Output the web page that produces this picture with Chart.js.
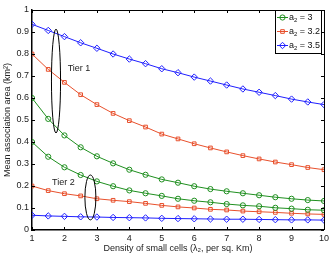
<!DOCTYPE html>
<html>
<head>
<meta charset="utf-8">
<script src="https://cdn.jsdelivr.net/npm/chart.js@4.4.1/dist/chart.umd.min.js"></script>
<style>
  html, body { margin: 0; padding: 0; background: #fff; }
  #wrap { width: 332px; height: 257px; }
</style>
</head>
<body>
<div id="wrap"><canvas id="grafico" width="332" height="257"></canvas></div>
<script>
// Densidad de small cells (eje x)
const densidad = [1, 1.5, 2, 2.5, 3, 3.5, 4, 4.5, 5, 5.5, 6, 6.5, 7, 7.5, 8, 8.5, 9, 9.5, 10];

// Tier 1
const tier1A3 = [0.600, 0.505, 0.430, 0.376, 0.335, 0.303, 0.274, 0.251, 0.230, 0.215, 0.199, 0.186, 0.176, 0.167, 0.158, 0.149, 0.142, 0.136, 0.132];
const tier1A32 = [0.800, 0.730, 0.671, 0.615, 0.570, 0.530, 0.497, 0.468, 0.436, 0.414, 0.392, 0.373, 0.355, 0.338, 0.323, 0.309, 0.297, 0.284, 0.274];
const tier1A35 = [0.935, 0.907, 0.879, 0.851, 0.826, 0.800, 0.777, 0.756, 0.733, 0.715, 0.695, 0.677, 0.659, 0.641, 0.626, 0.611, 0.595, 0.582, 0.570];

// Tier 2
const tier2A3 = [0.400, 0.333, 0.285, 0.250, 0.221, 0.199, 0.180, 0.167, 0.155, 0.142, 0.133, 0.126, 0.118, 0.112, 0.108, 0.101, 0.097, 0.092, 0.090];
const tier2A32 = [0.200, 0.179, 0.165, 0.155, 0.142, 0.135, 0.129, 0.121, 0.112, 0.105, 0.100, 0.094, 0.091, 0.086, 0.083, 0.080, 0.076, 0.073, 0.071];
const tier2A35 = [0.067, 0.064, 0.062, 0.060, 0.059, 0.057, 0.056, 0.055, 0.053, 0.052, 0.051, 0.050, 0.049, 0.049, 0.048, 0.047, 0.046, 0.046, 0.045];

const etiquetasLeyenda = ['3', '3.2', '3.5'];
const ticksY = [0, 0.1, 0.2, 0.3, 0.4, 0.5, 0.6, 0.7, 0.8, 0.9, 1];
const ticksX = [1, 2, 3, 4, 5, 6, 7, 8, 9, 10];

// Anotaciones (elipses en coordenadas de datos): centro x, centro y, radio x, radio y
const elipseTier1 = [1.74, 0.677, 0.14, 0.236];
const elipseTier2 = [2.80, 0.148, 0.17, 0.102];
const textoTier1 = [2.1, 0.735];
const textoTier2 = [1.62, 0.215];

const VERDE = '#1f8f1f';
const ROJO = '#e8502c';
const AZUL = '#1f1fff';
const FUENTE = '"Liberation Sans", Arial, sans-serif';

function serie(valores, color, marcador, radio) {
    return {
        data: densidad.map((x, i) => ({ x: x, y: valores[i] })),
        borderColor: color,
        borderWidth: 1,
        pointStyle: marcador,
        pointRadius: radio,
        pointBorderWidth: 1,
        pointBorderColor: color,
        pointBackgroundColor: 'rgba(0,0,0,0)',
        tension: 0
    };
}

const plugAnotaciones = {
    id: 'anotaciones',
    afterDraw(chart) {
        const ctx = chart.ctx;
        const xs = chart.scales.x, ys = chart.scales.y;
        const area = chart.chartArea;
        ctx.save();

        // caja superior y derecha
        ctx.strokeStyle = '#000';
        ctx.lineWidth = 1;
        ctx.beginPath();
        ctx.moveTo(area.left, area.top + 0.5);
        ctx.lineTo(area.right + 0.5, area.top + 0.5);
        ctx.lineTo(area.right + 0.5, area.bottom);
        ctx.stroke();

        // ticks hacia adentro en los cuatro lados
        ctx.beginPath();
        ticksX.forEach(v => {
            const px = Math.round(xs.getPixelForValue(v)) + 0.5;
            ctx.moveTo(px, area.bottom); ctx.lineTo(px, area.bottom - 3);
            ctx.moveTo(px, area.top); ctx.lineTo(px, area.top + 3);
        });
        ticksY.forEach(v => {
            const py = Math.round(ys.getPixelForValue(v)) + 0.5;
            ctx.moveTo(area.left, py); ctx.lineTo(area.left + 3, py);
            ctx.moveTo(area.right, py); ctx.lineTo(area.right - 3, py);
        });
        ctx.stroke();

        // elipses
        [elipseTier1, elipseTier2].forEach(e => {
            const cx = xs.getPixelForValue(e[0]);
            const cy = ys.getPixelForValue(e[1]);
            const rx = xs.getPixelForValue(e[0] + e[2]) - cx;
            const ry = cy - ys.getPixelForValue(e[1] + e[3]);
            ctx.beginPath();
            ctx.ellipse(cx, cy, rx, ry, 0, 0, Math.PI * 2);
            ctx.stroke();
        });

        // textos Tier
        ctx.fillStyle = '#222';
        ctx.font = '9px ' + FUENTE;
        ctx.textBaseline = 'middle';
        ctx.textAlign = 'left';
        ctx.fillText('Tier 1', xs.getPixelForValue(textoTier1[0]), ys.getPixelForValue(textoTier1[1]));
        ctx.fillText('Tier 2', xs.getPixelForValue(textoTier2[0]), ys.getPixelForValue(textoTier2[1]));

        // leyenda
        const lx = 275, ly = 10, lw = 46, lh = 43;
        ctx.fillStyle = '#fff';
        ctx.fillRect(lx, ly, lw, lh);
        ctx.lineWidth = 1;
        ctx.strokeStyle = '#000';
        ctx.strokeRect(lx + 0.5, ly + 0.5, lw, lh);
        const entradas = [[VERDE, 'circle'], [ROJO, 'rect'], [AZUL, 'rectRot']];
        entradas.forEach((ent, i) => {
            const y = ly + 7.5 + i * 14;
            ctx.strokeStyle = ent[0];
            ctx.lineWidth = 1;
            ctx.beginPath();
            ctx.moveTo(lx + 2, y); ctx.lineTo(lx + 13, y);
            ctx.stroke();
            ctx.fillStyle = 'rgba(0,0,0,0)';
            Chart.helpers.drawPoint(ctx, { pointStyle: ent[1], radius: ent[1] === 'rectRot' ? 3.2 : 2.6, borderWidth: 1 }, lx + 7.5, y);
            ctx.fillStyle = '#111';
            ctx.font = '9px ' + FUENTE;
            ctx.textBaseline = 'middle';
            let tx = lx + 14;
            ctx.fillText('a', tx, y);
            tx += ctx.measureText('a').width;
            ctx.font = '6px ' + FUENTE;
            ctx.fillText('2', tx, y + 3);
            tx += ctx.measureText('2').width;
            ctx.font = '9px ' + FUENTE;
            ctx.fillText(' = ' + etiquetasLeyenda[i], tx, y);
        });
        ctx.restore();
    }
};

const ctxGrafico = document.getElementById('grafico').getContext('2d');
new Chart(ctxGrafico, {
    type: 'line',
    data: {
        datasets: [
            serie(tier1A3, VERDE, 'circle', 2.6),
            serie(tier1A32, ROJO, 'rect', 2.6),
            serie(tier1A35, AZUL, 'rectRot', 3.2),
            serie(tier2A3, VERDE, 'circle', 2.6),
            serie(tier2A32, ROJO, 'rect', 2.6),
            serie(tier2A35, AZUL, 'rectRot', 3.2)
        ]
    },
    options: {
        responsive: false,
        animation: false,
        layout: { padding: { top: 10, right: 8, left: 0, bottom: 0 } },
        plugins: {
            legend: { display: false },
            tooltip: { enabled: false }
        },
        scales: {
            x: {
                type: 'linear',
                min: 1,
                max: 10,
                afterFit: (s) => { s.height = 27; },
                afterBuildTicks: (s) => { s.ticks = ticksX.map(v => ({ value: v })); },
                grid: { display: false, drawTicks: false },
                border: { display: true, color: '#000', width: 1.5 },
                ticks: {
                    padding: 3,
                    color: '#222',
                    font: { family: FUENTE, size: 9 },
                    maxRotation: 0,
                    callback: (v) => String(v)
                },
                title: {
                    display: true,
                    text: 'Density of small cells (λ₂, per sq. Km)',
                    color: '#222',
                    font: { family: FUENTE, size: 9 },
                    padding: { top: 0, bottom: 3 }
                }
            },
            y: {
                min: 0,
                max: 1,
                afterFit: (s) => { s.width = 32; },
                afterBuildTicks: (s) => { s.ticks = ticksY.map(v => ({ value: v })); },
                grid: { display: false, drawTicks: false },
                border: { display: true, color: '#000', width: 1.5 },
                ticks: {
                    padding: 3,
                    color: '#222',
                    font: { family: FUENTE, size: 9 },
                    callback: (v) => String(Math.round(v * 10) / 10)
                },
                title: {
                    display: true,
                    text: 'Mean association area (km²)',
                    color: '#222',
                    font: { family: FUENTE, size: 9 },
                    padding: { top: 2, bottom: 0 }
                }
            }
        }
    },
    plugins: [plugAnotaciones]
});
</script>
</body>
</html>
